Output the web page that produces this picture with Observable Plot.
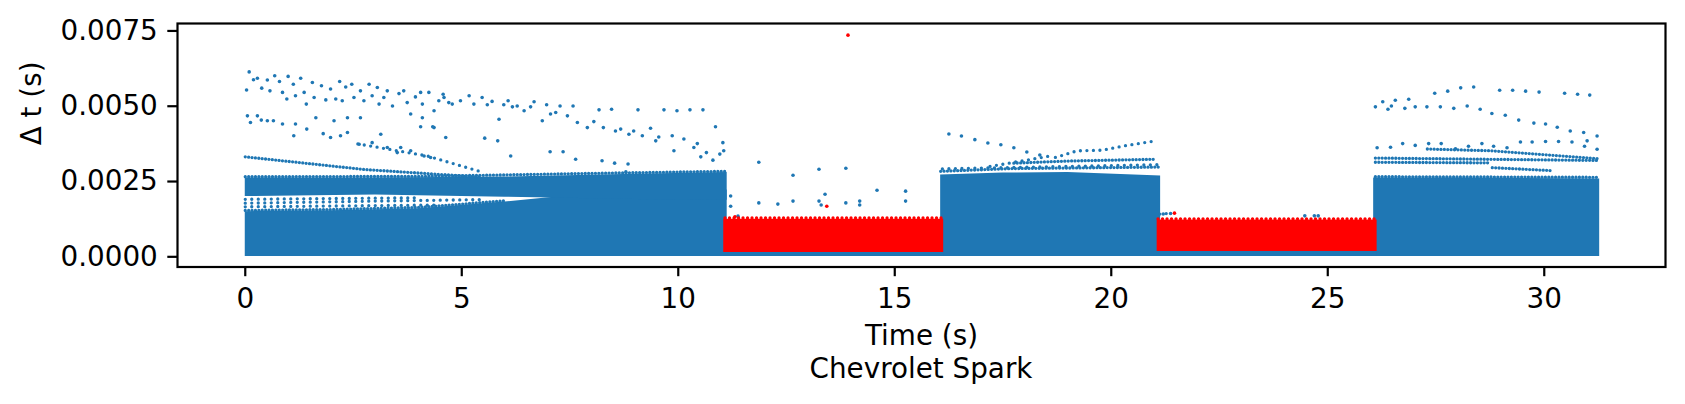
<!DOCTYPE html>
<html><head><meta charset="utf-8">
<script src="https://cdn.jsdelivr.net/npm/d3@7"></script>
<script src="https://cdn.jsdelivr.net/npm/@observablehq/plot@0.6"></script>
<style>
body{margin:0;background:#fff;}
#wrap{position:relative;width:1685px;height:404px;overflow:hidden;font-family:"DejaVu Sans",sans-serif;}
#cap{position:absolute;left:921px;top:355px;transform:translateX(-50%);font-size:27.8px;line-height:1;white-space:nowrap;color:#000;}
</style></head><body><div id="wrap"><div id="cap">Chevrolet Spark</div></div>
<script>
// ---- labels & ticks ----
const xLabel = "Time (s)";
const yLabel = "Δ t (s)";
const xTicks = [0, 5, 10, 15, 20, 25, 30];
const yTicks = [0, 0.0025, 0.005, 0.0075];

// ---- dense blue point clouds (envelopes) ----
const blueCoreId = ["A1","A1","A1","A1","A1","A1","A1", "A2","A2","A2","A2","A2", "B","B","B","B", "C","C","C", "U1","U1", "U2","U2"];
const blueCoreT  = [0,2,4,6,8,10,11.13, 0,3,6,9,11.13, 16.06,17.5,19,21.14, 26.06,28,31.28, 11.05,16.13, 21.06,26.14];
const blueCoreLo = [0.00001,0.00001,0.00001,0.00001,0.00001,0.00001,0.00001, 0.00200,0.00205,0.00198,0.00190,0.00188, 0.00001,0.00001,0.00001,0.00001, 0.00001,0.00001,0.00001, 0.00001,0.00001, 0.00001,0.00001];
const blueCoreHi = [0.00150,0.00153,0.00160,0.00182,0.00210,0.00216,0.00222, 0.00262,0.00262,0.00265,0.00274,0.00280, 0.00272,0.00278,0.00280,0.00268, 0.00262,0.00262,0.00258, 0.00016,0.00016, 0.00019,0.00019];

// ---- dense red point clouds ----
const redCoreId = ["R1","R1","R2","R2"];
const redCoreT  = [11.05,16.13, 21.06,26.14];
const redCoreLo = [0.00014,0.00014, 0.00018,0.00018];
const redCoreHi = [0.00125,0.00125, 0.00122,0.00122];

// ---- tightly packed streaks of blue points ----
const denseId = ["a1","a1","a1", "aT","aT","aT","aT", "aL","aL","aL","aL", "bT","bT","bT", "b2","b2","b2", "c1","c1","c1", "c2","c2", "c3","c3","c3", "c4","c4", "cT","cT"];
const denseT  = [0,2.75,5.4, 0,4,8,11.13, 0,2,4,6, 16.06,17.7,21.1, 17.75,19.0,21.02, 26.1,28.6,31.25, 26.1,28.7, 27.3,28.8,31.25, 28.8,30.2, 26.1,31.27];
const denseV  = [0.00332,0.00290,0.00265, 0.00266,0.00267,0.00277,0.00284, 0.00154,0.00157,0.00164,0.00186, 0.00284,0.00293,0.00298, 0.00311,0.00318,0.00324, 0.00328,0.00324,0.00320, 0.00314,0.00312, 0.00358,0.00352,0.00326, 0.00296,0.00286, 0.00266,0.00264];

// ---- looser streaks of blue points ----
const looseId = ["b1","b1","b1","b1","b1", "a5","a5","a5", "a2","a2","a2", "a3","a3", "a4","a4", "bM","bM", "bU","bU", "bR","bR"];
const looseT  = [18.71,19.21,19.79,20.33,21.02, 2.6,4.2,5.5, 0,3,5.5, 0,4.5, 0,4, 17.2,18.6, 16.1,21.1, 21.12,21.4];
const looseV  = [0.00330,0.00352,0.00354,0.00369,0.00385, 0.00375,0.00335,0.00280, 0.00178,0.00185,0.00190, 0.00166,0.00172, 0.00191,0.00196, 0.00300,0.00335, 0.00292,0.00306, 0.00142,0.00145];

// ---- red streaks along the ragged top of the red clouds ----
const redStreakId = ["r1","r1","r2","r2"];
const redStreakT  = [11.08,16.1, 21.08,26.12];
const redStreakV  = [0.00129,0.00129, 0.00126,0.00126];

// ---- individual blue points ----
const blueDotT = [
 0.09,0.03,0.19,0.28,0.38,0.51,0.57,0.68,0.79,0.86,0.99,0.96,1.11,1.16,1.28,1.36,1.41,1.55,1.59,1.76,1.86,1.97,2.18,2.09,2.24,2.32,2.46,2.51,2.66,2.74,2.86,2.93,3.05,3.09,3.20,3.28,3.40,3.55,3.66,3.74,3.93,4.05,4.09,4.24,4.36,4.47,4.59,4.70,4.57,4.78,4.97,5.17,5.28,5.47,5.59,5.70,5.97,6.07,6.17,6.28,6.44,6.59,6.67,6.96,7.27,7.57,8.17,8.46,9.07,9.67,9.97,10.27,10.57,
 0.05,0.12,0.28,0.37,0.51,0.65,0.86,1.12,1.16,1.42,1.63,1.80,2.05,1.97,2.20,2.36,2.36,2.63,2.66,2.93,3.13,3.28,3.51,3.59,3.82,4.13,4.28,4.63,3.82,4.09,4.36,4.05,4.33,5.53,5.83,5.86,6.13,6.86,7.04,7.05,7.17,7.34,7.44,7.63,7.67,7.90,8.05,8.24,8.27,8.53,8.55,8.67,8.79,8.84,8.86,8.97,9.17,9.36,9.48,9.55,9.86,9.90,10.13,10.36,10.44,10.52,10.65,10.80,10.86,10.96,11.03,11.05,
 11.86,12.65,13.25,13.87,14.59,15.25,15.25,11.86,12.30,12.65,13.25,13.39,13.30,13.87,14.19,14.19,11.21,11.21,11.38,21.20,21.37,24.47,24.69,24.78,
 16.25,16.54,16.85,17.15,17.45,17.75,18.05,18.35,
 26.10,26.27,26.39,26.47,26.56,26.78,26.87,27.02,27.29,27.47,27.60,27.77,27.91,28.07,28.22,28.37,28.52,28.79,28.97,29.10,29.27,29.41,29.57,29.76,29.88,30.03,30.30,30.47,30.60,30.77,30.91,31.05,31.22,30.99,31.22,
 26.14,26.45,26.73,27.02,27.33,27.62,27.95,28.25,28.56,28.83,29.14,29.45,29.72,30.03,30.33,30.64,30.93
];
const blueDotV = [
 0.00614,0.00554,0.00588,0.00593,0.00560,0.00587,0.00551,0.00601,0.00582,0.00546,0.00599,0.00524,0.00573,0.00535,0.00593,0.00546,0.00507,0.00579,0.00529,0.00568,0.00521,0.00557,0.00582,0.00524,0.00518,0.00564,0.00573,0.00529,0.00551,0.00518,0.00573,0.00535,0.00562,0.00507,0.00529,0.00551,0.00501,0.00542,0.00551,0.00512,0.00531,0.00546,0.00507,0.00546,0.00485,0.00518,0.00529,0.00512,0.00540,0.00507,0.00518,0.00535,0.00507,0.00529,0.00505,0.00516,0.00505,0.00518,0.00498,0.00501,0.00485,0.00498,0.00515,0.00505,0.00501,0.00501,0.00488,0.00490,0.00488,0.00488,0.00485,0.00488,0.00488,
 0.00468,0.00446,0.00468,0.00454,0.00452,0.00452,0.00441,0.00402,0.00441,0.00424,0.00462,0.00409,0.00452,0.00396,0.00402,0.00413,0.00462,0.00374,0.00462,0.00379,0.00407,0.00363,0.00346,0.00363,0.00352,0.00335,0.00330,0.00396,0.00474,0.00462,0.00429,0.00432,0.00432,0.00394,0.00385,0.00457,0.00335,0.00452,0.00349,0.00474,0.00479,0.00349,0.00468,0.00324,0.00446,0.00429,0.00449,0.00319,0.00429,0.00311,0.00418,0.00424,0.00282,0.00308,0.00407,0.00418,0.00402,0.00427,0.00385,0.00398,0.00402,0.00352,0.00391,0.00363,0.00376,0.00332,0.00346,0.00321,0.00432,0.00341,0.00379,0.00352,
 0.00314,0.00271,0.00291,0.00294,0.00221,0.00218,0.00185,0.00179,0.00175,0.00185,0.00185,0.00208,0.00172,0.00179,0.00185,0.00172,0.00202,0.00168,0.00135,0.00142,0.00144,0.00136,0.00136,0.00136,
 0.00408,0.00401,0.00389,0.00378,0.00372,0.00362,0.00348,0.00338,
 0.00498,0.00515,0.00490,0.00501,0.00520,0.00493,0.00523,0.00498,0.00498,0.00543,0.00498,0.00550,0.00493,0.00561,0.00501,0.00564,0.00490,0.00476,0.00553,0.00470,0.00553,0.00454,0.00550,0.00444,0.00547,0.00441,0.00430,0.00543,0.00418,0.00540,0.00413,0.00537,0.00401,0.00385,0.00357,
 0.00362,0.00364,0.00376,0.00370,0.00376,0.00376,0.00359,0.00367,0.00376,0.00367,0.00362,0.00381,0.00381,0.00383,0.00383,0.00381,0.00367
];

// ---- individual red points ----
const redDotT = [13.92, 13.43, 11.31, 21.46];
const redDotV = [0.00736, 0.00168, 0.00133, 0.00145];

const BLUE = "#1f77b4", RED = "#ff0000";
const idx = a => d3.range(a.length);

const chart = Plot.plot({
  width: 1685, height: 364,
  marginLeft: 177, marginRight: 20, marginTop: 23, marginBottom: 97.5,
  style: {fontFamily: "DejaVu Sans", fontSize: "27.8px", color: "#000", background: "#fff", overflow: "visible"},
  x: {domain: [-1.565, 32.80]},
  y: {domain: [-0.000338, 0.007747]},
  marks: [
    Plot.areaY(idx(blueCoreT), {x: i => blueCoreT[i], y1: i => blueCoreLo[i], y2: i => blueCoreHi[i], z: i => blueCoreId[i], fill: BLUE, curve: "linear"}),
    Plot.line(idx(denseT), {x: i => denseT[i], y: i => denseV[i], z: i => denseId[i], stroke: BLUE, strokeWidth: 3.3, strokeDasharray: "0,3.4", strokeLinecap: "round"}),
    Plot.line(idx(looseT), {x: i => looseT[i], y: i => looseV[i], z: i => looseId[i], stroke: BLUE, strokeWidth: 3.3, strokeDasharray: "0,6.5", strokeLinecap: "round"}),
    Plot.dot(idx(blueDotT), {x: i => blueDotT[i], y: i => blueDotV[i], r: 1.8, fill: BLUE, stroke: "none"}),
    Plot.areaY(idx(redCoreT), {x: i => redCoreT[i], y1: i => redCoreLo[i], y2: i => redCoreHi[i], z: i => redCoreId[i], fill: RED, curve: "linear"}),
    Plot.line(idx(redStreakT), {x: i => redStreakT[i], y: i => redStreakV[i], z: i => redStreakId[i], stroke: RED, strokeWidth: 3.3, strokeDasharray: "0,4.5", strokeLinecap: "round"}),
    Plot.dot(idx(redDotT), {x: i => redDotT[i], y: i => redDotV[i], r: 1.8, fill: RED, stroke: "none"}),
    Plot.frame({stroke: "#000", strokeWidth: 2.2}),
    Plot.axisX({ticks: xTicks, tickSize: 9.7, tickPadding: 12, strokeWidth: 2.2, label: null, tickFormat: d => String(d)}),
    Plot.axisY({ticks: yTicks, tickSize: 9.7, tickPadding: 10, strokeWidth: 2.2, label: null, tickFormat: d3.format(".4f")}),
    Plot.text([xLabel], {frameAnchor: "bottom", dy: 77.5, text: d => d, fill: "#000"}),
    Plot.text([yLabel], {frameAnchor: "left", dx: -145, rotate: -90, text: d => d, fill: "#000"})
  ]
});
document.getElementById("wrap").prepend(chart);
</script></body></html>
